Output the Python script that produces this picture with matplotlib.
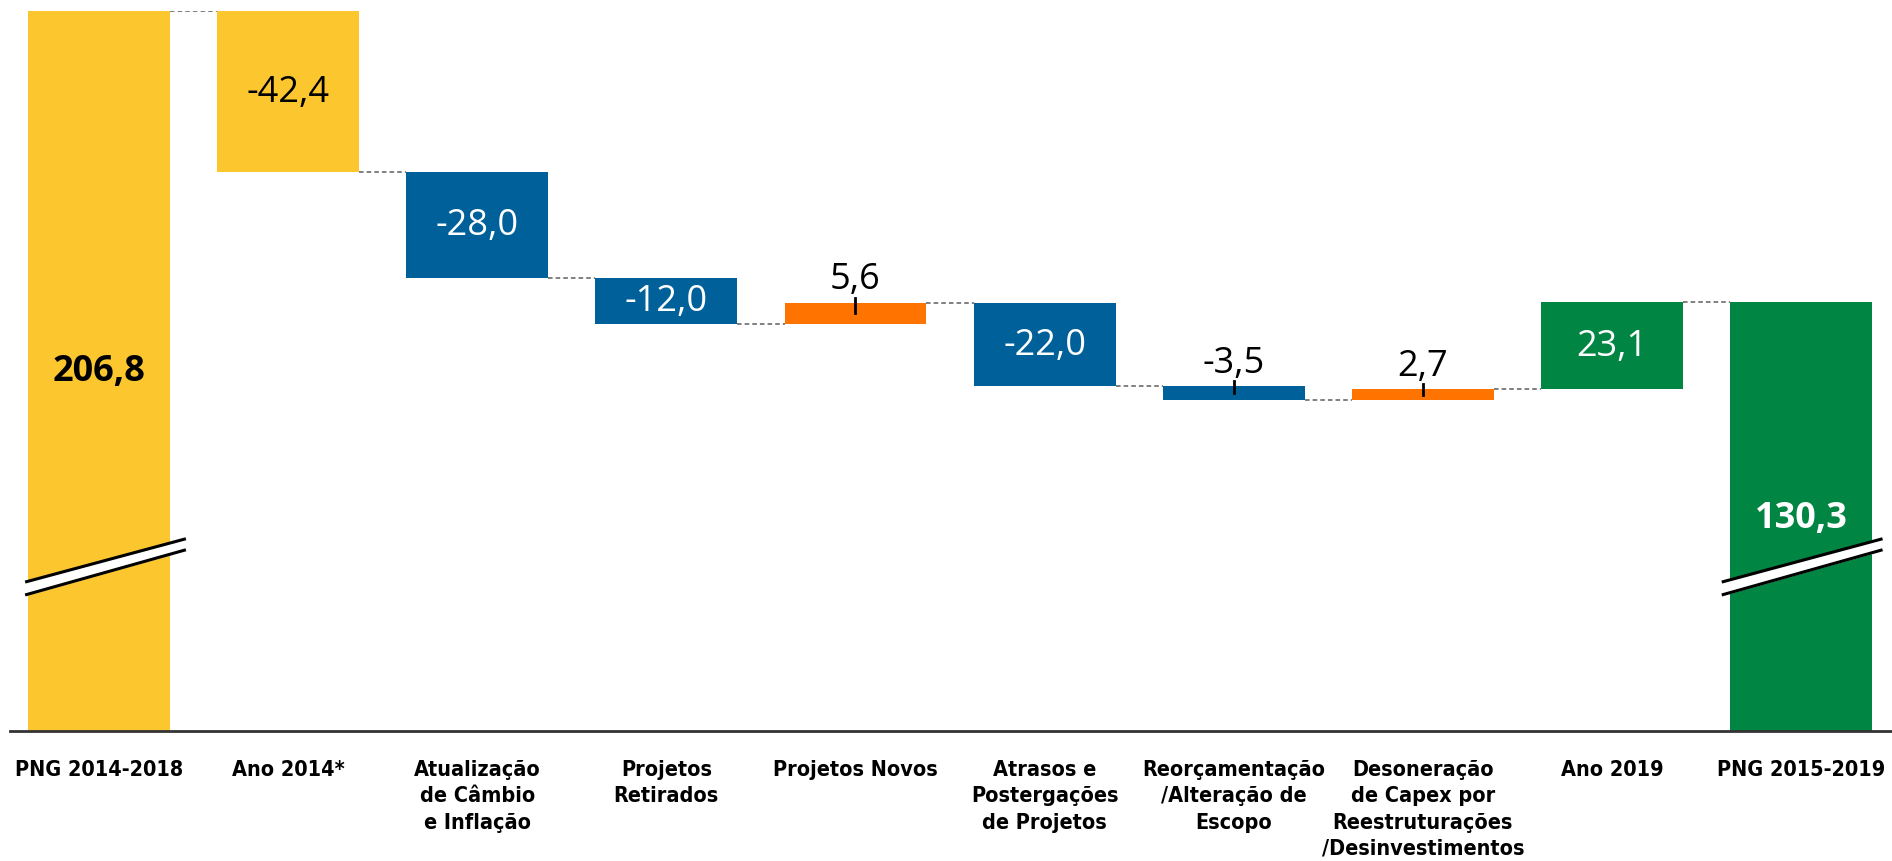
import matplotlib
matplotlib.use("Agg")
from matplotlib import pyplot as plt
import numpy as np

categories = ["PNG 2014-2018", "Ano 2014*", "Atualização\nde Câmbio\ne Inflação",
              "Projetos\nRetirados", "Projetos Novos", "Atrasos e\nPostergações\nde Projetos",
              "Reorçamentação\n/Alteração de\nEscopo",
              "Desoneração\nde Capex por\nReestruturações\n/Desinvestimentos",
              "Ano 2019", "PNG 2015-2019"]
start_total = 206.8
changes = [-42.4, -28.0, -12.0, 5.6, -22.0, -3.5, 2.7, 23.1]
end_total = 130.3
labels = ["206,8", "-42,4", "-28,0", "-12,0", "5,6", "-22,0", "-3,5", "2,7", "23,1", "130,3"]

yellow = "#FCC62F"
blue = "#00609A"
orange = "#FF7300"
green = "#008542"
colors = [yellow, yellow, blue, blue, orange, blue, blue, orange, green, green]
# where the label goes: inside bar, or above (small bars)
label_pos = ["in", "in", "in", "in", "above", "in", "above", "above", "in", "in"]
label_col = ["black", "black", "white", "white", "black", "white", "black", "black", "white", "white"]

y_floor = 17.3  # broken axis: bottom of the plot
width = 0.75

# running totals
levels = [start_total]
for c in changes:
    levels.append(round(levels[-1] + c, 1))

bottoms = [y_floor]
heights = [start_total - y_floor]
for i, c in enumerate(changes):
    lo = min(levels[i], levels[i + 1])
    bottoms.append(lo)
    heights.append(abs(c))
bottoms.append(y_floor)
heights.append(end_total - y_floor)

x = np.arange(len(categories))

fig = plt.figure(figsize=(18.92, 8.62), dpi=100)
ax = fig.add_axes([10 / 1892, 1 - 732 / 862, 1 - 10 / 1892, 720 / 862])
ax.bar(x, heights, bottom=bottoms, width=width, color=colors, zorder=2)
ax.set_xlim(-0.47, 9.48)
ax.set_ylim(y_floor, start_total)

# dashed connectors
conn = [start_total] + levels[1:]
for i in range(len(categories) - 1):
    lvl = conn[i]
    ax.plot([x[i] + width / 2, x[i + 1] - width / 2], [lvl, lvl],
            ls=(0, (3, 2)), color="#5e5e5e", lw=1.1, zorder=1)

# value labels
big = dict(family=["Open Sans", "DejaVu Sans"], fontsize=26)
for i in range(len(categories)):
    if i == 0:
        ax.text(x[i], 0.5, labels[i], transform=ax.get_xaxis_transform(),
                ha="center", va="center", color=label_col[i], fontweight="bold", **big)
    elif i == len(categories) - 1:
        ax.text(x[i], 0.296, labels[i], transform=ax.get_xaxis_transform(),
                ha="center", va="center", color=label_col[i], fontweight="bold", **big)
    elif label_pos[i] == "in":
        ax.text(x[i], bottoms[i] + heights[i] / 2, labels[i], ha="center", va="center",
                color=label_col[i], **big)
    else:
        top = bottoms[i] + heights[i]
        mid = bottoms[i] + heights[i] / 2
        ax.plot([x[i], x[i]], [mid, top + 1.3], color="black", lw=2, zorder=3)
        ax.annotate(labels[i], (x[i], top), xytext=(0, 4), textcoords="offset points",
                    ha="center", va="bottom", color=label_col[i], **big)

# break marks on first and last bars
def draw_break(x0, x1):
    xs = np.array([x0, x1])
    lower = np.array([56.5, 67.9])
    upper = lower + np.array([-3.4, -2.9])
    ax.fill_between(xs, upper, lower, color="white", zorder=4)
    ax.plot(xs, lower, color="black", lw=2.2, zorder=5, solid_capstyle="butt")
    ax.plot(xs, upper, color="black", lw=2.2, zorder=5, solid_capstyle="butt")

draw_break(-0.39, 0.46)
draw_break(8.58, 9.43)

for s in ["top", "right", "left"]:
    ax.spines[s].set_visible(False)
ax.spines["bottom"].set_color("#333333")
ax.spines["bottom"].set_linewidth(2)
ax.set_yticks([])
ax.set_xticks(x)
ax.set_xticklabels(categories, family="DejaVu Sans", fontstretch="condensed",
                   fontweight="bold", fontsize=15.5, linespacing=1.4, va="top")
ax.tick_params(axis="x", length=0, pad=20)

plt.savefig("out.png", dpi=100)
